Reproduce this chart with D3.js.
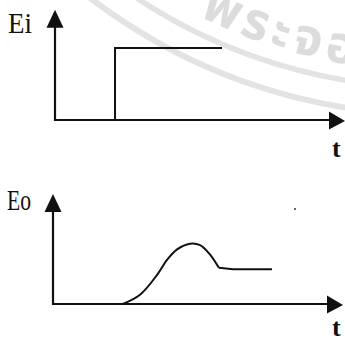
<!DOCTYPE html>
<html>
<head>
<meta charset="utf-8">
<script src="https://cdn.jsdelivr.net/npm/d3@7/dist/d3.min.js"></script>
<style>
  html, body { margin: 0; padding: 0; background: #fff; }
  svg { display: block; }
</style>
</head>
<body>
<svg id="chart" width="345" height="342"></svg>
<script>
// Input signal Ei: a step that switches on and stays high
const inputTimes  = [0, 2.07, 2.07, 5.76];
const inputLevels = [0, 0, 1, 1];

// Output signal Eo: delayed rise, overshoot, then settles to a lower level
const outputRiseTimes  = [2.41, 3.0, 3.59, 3.93, 4.28, 4.72, 5.07, 5.41, 5.72];
const outputRiseLevels = [0, 0.13, 0.41, 0.62, 0.77, 0.85, 0.83, 0.70, 0.51];
const outputFlatTimes  = [5.72, 6.21, 7.55];
const outputFlatLevels = [0.51, 0.49, 0.49];

// Axis labels
const axisLabelsY = ["Ei", "Eo"];
const axisLabelX = "t";

// Axis extents (data units) reached by the arrow tips
const timeAxisEnd = 10;
const levelAxisEndTop = 1.53;
const levelAxisEndBottom = 1.55;

const svg = d3.select("#chart");
const ink = "#111";

// ---- faint seal watermark in the background ----
const wm = svg.append("g").attr("class", "watermark");
const wcx = 433.5, wcy = -449.5;
function arcPath(r, a0, a1) {
  const rad = Math.PI / 180;
  const x0 = wcx + r * Math.cos(a0 * rad), y0 = wcy + r * Math.sin(a0 * rad);
  const x1 = wcx + r * Math.cos(a1 * rad), y1 = wcy + r * Math.sin(a1 * rad);
  return `M${x0},${y0} A${r},${r} 0 0 0 ${x1},${y1}`;
}
wm.append("path").attr("d", arcPath(537, 140, 80))
  .attr("fill", "none").attr("stroke", "#e3e3e3").attr("stroke-width", 5.5);
wm.append("path").attr("d", arcPath(564, 140, 80))
  .attr("fill", "none").attr("stroke", "#e3e3e3").attr("stroke-width", 6);
wm.append("path").attr("id", "sealText").attr("d", arcPath(521, 135, 80))
  .attr("fill", "none");
wm.append("text")
  .attr("font-family", "'Noto Sans Thai', 'Noto Sans', 'DejaVu Sans', sans-serif")
  .attr("font-size", 52).attr("font-weight", "bold")
  .attr("fill", "#dcdcdc").attr("letter-spacing", 5)
  .append("textPath").attr("href", "#sealText").attr("startOffset", 166)
  .text("พระจอ");

// ---- panel drawing helper ----
function drawAxes(g, x, y, levelEnd) {
  const ox = x(0), oy = y(0);
  const tipX = x(timeAxisEnd), tipY = y(levelEnd);
  const head = 16, half = 8.5;
  // vertical axis
  g.append("line").attr("x1", ox).attr("y1", oy + 1).attr("x2", ox).attr("y2", tipY + head - 1)
    .attr("stroke", ink).attr("stroke-width", 2.2);
  g.append("path")
    .attr("d", `M${ox},${tipY} L${ox - half},${tipY + head + 2} L${ox + half},${tipY + head + 2} Z`)
    .attr("fill", ink);
  // horizontal axis
  g.append("line").attr("x1", ox - 1).attr("y1", oy).attr("x2", tipX - head + 1).attr("y2", oy)
    .attr("stroke", ink).attr("stroke-width", 2.2);
  g.append("path")
    .attr("d", `M${tipX},${oy + 1} L${tipX - head},${oy - half} L${tipX - head},${oy + half + 1} Z`)
    .attr("fill", ink);
}

function labelAxes(g, yLabel, yLabelPos, tPos) {
  g.append("text").attr("x", yLabelPos[0]).attr("y", yLabelPos[1])
    .attr("font-family", "'Liberation Serif', 'DejaVu Serif', serif")
    .attr("font-size", 29).attr("textLength", 24).attr("lengthAdjust", "spacingAndGlyphs")
    .attr("fill", ink).text(yLabel);
  g.append("text").attr("x", tPos[0]).attr("y", tPos[1])
    .attr("font-family", "'Liberation Serif', 'DejaVu Serif', serif")
    .attr("font-size", 26).attr("font-weight", "bold")
    .attr("fill", ink).text(axisLabelX);
}

// ---- top panel: Ei ----
const xTop = d3.scaleLinear().domain([0, timeAxisEnd]).range([55, 345]);
const yTop = d3.scaleLinear().domain([0, 1]).range([120, 48]);
const gTop = svg.append("g");
drawAxes(gTop, xTop, yTop, levelAxisEndTop);
gTop.append("path")
  .datum(inputTimes.map((t, i) => [t, inputLevels[i]]))
  .attr("d", d3.line().x(d => xTop(d[0])).y(d => yTop(d[1])))
  .attr("fill", "none").attr("stroke", ink).attr("stroke-width", 2);
labelAxes(gTop, axisLabelsY[0], [8, 33], [332, 157]);

// ---- bottom panel: Eo ----
const xBot = d3.scaleLinear().domain([0, timeAxisEnd]).range([53, 343]);
const yBot = d3.scaleLinear().domain([0, 1]).range([304, 233]);
const gBot = svg.append("g");
drawAxes(gBot, xBot, yBot, levelAxisEndBottom);
gBot.append("path")
  .datum(outputRiseTimes.map((t, i) => [t, outputRiseLevels[i]]))
  .attr("d", d3.line().curve(d3.curveCatmullRom.alpha(0.5)).x(d => xBot(d[0])).y(d => yBot(d[1])))
  .attr("fill", "none").attr("stroke", ink).attr("stroke-width", 2);
gBot.append("path")
  .datum(outputFlatTimes.map((t, i) => [t, outputFlatLevels[i]]))
  .attr("d", d3.line().x(d => xBot(d[0])).y(d => yBot(d[1])))
  .attr("fill", "none").attr("stroke", ink).attr("stroke-width", 2);
labelAxes(gBot, axisLabelsY[1], [7, 210], [332, 336]);

// stray speck in the bottom panel
svg.append("circle").attr("cx", 295).attr("cy", 209).attr("r", 1).attr("fill", "#333");
</script>
</body>
</html>
